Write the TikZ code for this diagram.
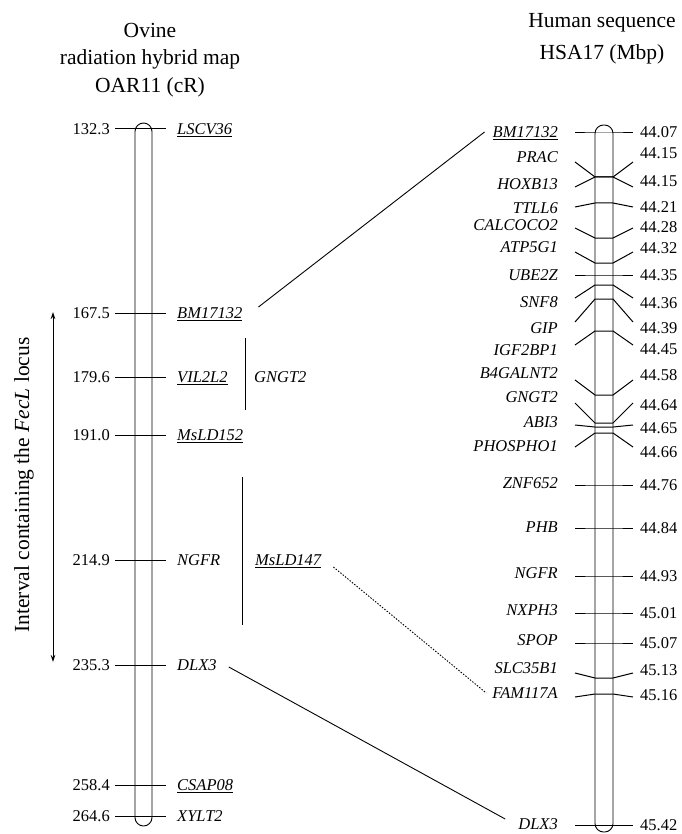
\documentclass[tikz,border=0pt]{standalone}
\usepackage{fontspec}
\setmainfont{Liberation Serif}
\usetikzlibrary{arrows.meta, positioning, calc}

\begin{document}
\begin{tikzpicture}[
  x=1pt, y=-1pt, >={Stealth[length=7pt,width=4.5pt]},
  chrom/.style={draw, line width=0.9pt, rounded corners=8.5pt},
  tick/.style={draw, line width=1pt},
  link/.style={draw, line width=0.9pt},
  gene/.style={font=\fontsize{16.5}{18}\selectfont\itshape, inner sep=0pt, text height=11pt, text depth=0pt},
  mappos/.style={font=\fontsize{16.5}{18}\selectfont, inner sep=0pt, text height=11pt, text depth=0pt},
  ttl/.style={font=\fontsize{21.5}{27.5}\selectfont, align=center, inner sep=0pt}
  ]
  \useasboundingbox (0,0) rectangle (681,834);
  % titles
  \node[ttl] (otitle) at (150,60) {Ovine\\radiation hybrid map\\OAR11 (cR)};
  \node[ttl, font=\fontsize{21.5}{32}\selectfont] (htitle) at (602,39) {Human sequence\\HSA17 (Mbp)};
  % ovine map
  \draw[chrom] (135,123) rectangle (152,826);
  \foreach \id/\txt/\y/\val in {LSCV36/\underline{LSCV36}/129/132.3, BM17132/\underline{BM17132}/313/167.5,
      VIL2L2/\underline{VIL2L2}/377/179.6, MsLD152/\underline{MsLD152}/435/191.0, NGFR/NGFR/560/214.9,
      DLX3/DLX3/665/235.3, CSAP08/\underline{CSAP08}/785/258.4, XYLT2/XYLT2/816/264.6}{
    \draw[tick] (115,\y) -- (166,\y);
    \node[mappos, anchor=east] (lv\id) at (110,\y) {\val};
    \node[gene, anchor=west] (l\id) at (177,\y) {\txt};
  }
  \draw[tick] (245,338) -- (245,410);
  \node[gene, anchor=west] (gGNGT2) at (254,377) {GNGT2};
  \draw[tick] (242,477) -- (242,625);
  \node[gene, anchor=west] (lMsLD147) at (255,560) {\underline{MsLD147}};
  % FecL interval
  \coordinate (itop) at (53,312);
  \coordinate (ibot) at (53,662);
  \draw[<->, line width=0.9pt] (itop) -- (ibot);
  \node[ttl, rotate=90] (interval) at (24,485) {Interval containing the \textit{FecL} locus};
  % human sequence
  \draw[chrom] (595,125) rectangle (613,832);
  \foreach \id/\txt/\yl/\ye/\yc/\val/\yn in {BM17132/\underline{BM17132}/132/133/133/44.07/132,
      PRAC/PRAC/157/162/177/44.15/153, HOXB13/HOXB13/184/187/177/44.15/181,
      TTLL6/TTLL6/208/207/203/44.21/207, CALCOCO2/CALCOCO2/225/228/238/44.28/227,
      ATP5G1/ATP5G1/247/252/263/44.32/248, UBE2Z/UBE2Z/275/275/275/44.35/275,
      SNF8/SNF8/302/298/285/44.36/303, GIP/GIP/328/322/299/44.39/328,
      IGF2BP1/IGF2BP1/350/345/331/44.45/349, B4GALNT2/B4GALNT2/373/380/395/44.58/375,
      GNGT2/GNGT2/397/403/423/44.64/405, ABI3/ABI3/422/425/427/44.65/428,
      PHOSPHO1/PHOSPHO1/446/447/433/44.66/452, ZNF652/ZNF652/483/485/485/44.76/485,
      PHB/PHB/527/528/528/44.84/528, NGFR/NGFR/573/576/576/44.93/576,
      NXPH3/NXPH3/610/613/613/45.01/613, SPOP/SPOP/640/643/643/45.07/643,
      SLC35B1/SLC35B1/668/673/678/45.13/670, FAM117A/FAM117A/693/697/694/45.16/695,
      DLX3/DLX3/824/825/825/45.42/825}{
    \draw[tick] (575,\ye) -- (595,\yc) -- (613,\yc) -- (633,\ye);
    \node[gene, anchor=east] (r\id) at (558,\yl) {\txt};
    \node[mappos, anchor=west] (rv\id) at (640,\yn) {\val};
  }
  % links between maps
  \draw[link] ([xshift=16pt,yshift=6pt]lBM17132.east) -- ([xshift=-8pt]rBM17132.west);
  \draw[link, dash pattern=on 1.5pt off 1.5pt] ([xshift=12pt,yshift=-7pt]lMsLD147.east) -- ([xshift=-6pt]rFAM117A.west);
  \draw[link] ([xshift=12pt,yshift=-2pt]lDLX3.east) -- ([xshift=-13pt,yshift=5pt]rDLX3.west);
\end{tikzpicture}
\end{document}
